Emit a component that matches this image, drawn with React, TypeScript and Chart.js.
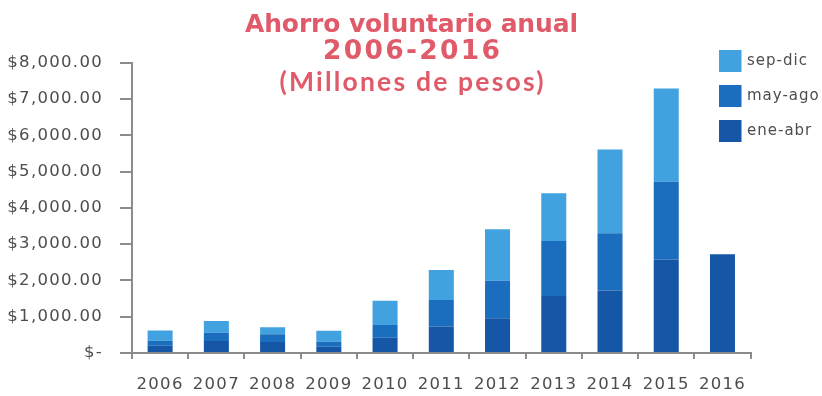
import { useEffect, useRef } from 'react';
import { Chart, registerables } from 'chart.js';

Chart.register(...registerables);

// ---- data ----
const years = ['2006', '2007', '2008', '2009', '2010', '2011', '2012', '2013', '2014', '2015', '2016'];
const eneAbr = [200, 330, 300, 170, 420, 730, 960, 1570, 1720, 2580, 2720];
const mayAgo = [140, 230, 220, 140, 350, 730, 1030, 1515, 1580, 2140, null];
const sepDic = [280, 320, 190, 300, 670, 830, 1420, 1315, 2310, 2570, null];
const seriesNames = ['ene-abr', 'may-ago', 'sep-dic'];
const titleLines = ['Ahorro voluntario anual', '2006-2016', '(Millones de pesos)'];
const yMin = 0;
const yMax = 8000;
const yStep = 1000;

// ---- styles ----
const seriesColors = ['#1656a6', '#1b6ebe', '#42a2df'];
const titleColor = '#e05a69';
const axisColor = '#8c8c8c';
const labelColor = '#4d4d4d';

const fmtTick = (v: number) =>
  v === 0 ? '$-' : '$' + v.toLocaleString('en-US', { minimumFractionDigits: 2, maximumFractionDigits: 2 });

function drawFitted(ctx: CanvasRenderingContext2D, text: string, cx: number, baseline: number, font: string, target: number) {
  ctx.font = font;
  (ctx as any).letterSpacing = '0px';
  const w = ctx.measureText(text).width;
  const sp = (target - w) / Math.max(1, text.length - 1);
  (ctx as any).letterSpacing = sp + 'px';
  ctx.textAlign = 'left';
  ctx.textBaseline = 'alphabetic';
  ctx.fillText(text, cx - target / 2, baseline);
}

const spacingPlugin = {
  id: 'spacing',
  beforeDraw(chart: any) {
    (chart.ctx as any).letterSpacing = '1.3px';
  },
};

const overlayPlugin = {
  id: 'overlay',
  afterDraw(chart: any) {
    const ctx: CanvasRenderingContext2D = chart.ctx;
    ctx.save();
    // title
    ctx.fillStyle = titleColor;
    const specs = [
      { font: 'bold 25px "DejaVu Sans"', baseline: 31.5, width: 333 },
      { font: 'bold 26.5px "DejaVu Sans"', baseline: 59.3, width: 177 },
      { font: 'bold 26.5px "Lato"', baseline: 91, width: 264 },
    ];
    titleLines.forEach((t, i) => drawFitted(ctx, t, 411.5, specs[i].baseline, specs[i].font, specs[i].width));
    // legend (reversed)
    const ds = chart.data.datasets.slice().reverse();
    ds.forEach((d: any, i: number) => {
      const y0 = 50 + i * 35;
      ctx.fillStyle = d.backgroundColor;
      ctx.fillRect(719, y0, 22.5, 22);
      ctx.fillStyle = labelColor;
      ctx.font = '15px "DejaVu Sans"';
      (ctx as any).letterSpacing = '1px';
      ctx.textAlign = 'left';
      ctx.textBaseline = 'middle';
      ctx.fillText(d.label, 747, y0 + 11);
    });
    ctx.restore();
  },
};

export default function App() {
  const ref = useRef<HTMLCanvasElement>(null);
  useEffect(() => {
    const series = [eneAbr, mayAgo, sepDic];
    const chart = new Chart(ref.current!, {
      type: 'bar',
      data: {
        labels: years,
        datasets: series.map((values, i) => ({
          label: seriesNames[i],
          data: values as any,
          backgroundColor: seriesColors[i],
          borderWidth: 0,
          barPercentage: 0.445,
          categoryPercentage: 1,
        })),
      },
      options: {
        responsive: false,
        animation: false,
        layout: { padding: { left: 0, top: 62.7, right: 71.4, bottom: 0 } },
        plugins: { legend: { display: false }, title: { display: false }, tooltip: { enabled: false } },
        scales: {
          x: {
            stacked: true,
            border: { color: axisColor, width: 2 },
            grid: { drawOnChartArea: false, drawTicks: true, tickLength: 6, color: axisColor, lineWidth: 2, offset: true },
            ticks: { color: labelColor, padding: 16, maxRotation: 0, autoSkip: false, font: { family: '"DejaVu Sans"', size: 16.5 } },
            afterFit: (s: any) => { s.height = 43; },
          },
          y: {
            stacked: true,
            min: yMin,
            max: yMax,
            border: { color: axisColor, width: 2 },
            grid: { drawOnChartArea: false, drawTicks: true, tickLength: 12, color: axisColor, lineWidth: 2 },
            ticks: { stepSize: yStep, color: labelColor, padding: 17, font: { family: '"DejaVu Sans"', size: 16.5 }, callback: (v: any) => fmtTick(Number(v)) },
            afterFit: (s: any) => { s.width = 132; },
          },
        },
      },
      plugins: [spacingPlugin, overlayPlugin],
    });
    return () => chart.destroy();
  }, []);
  return (
    <div style={{ position: 'fixed', left: 0, top: 0, width: 822, height: 396, background: '#fff' }}>
      <canvas ref={ref} width={822} height={396} style={{ display: 'block' }} />
    </div>
  );
}
